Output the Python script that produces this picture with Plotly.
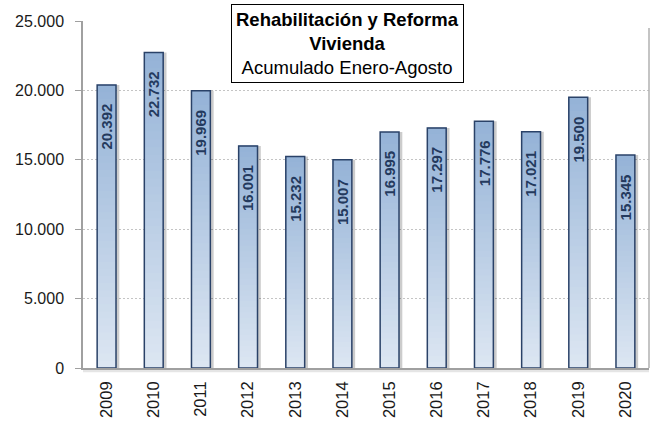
import plotly.graph_objects as go

years = ["2009", "2010", "2011", "2012", "2013", "2014", "2015", "2016", "2017", "2018", "2019", "2020"]
values = [20392, 22732, 19969, 16001, 15232, 15007, 16995, 17297, 17776, 17021, 19500, 15345]
y_ticks = [0, 5000, 10000, 15000, 20000, 25000]
title_lines = ["<b>Rehabilitación y Reforma</b>", "<b>Vivienda</b>", "Acumulado Enero-Agosto"]

FONT = "Liberation Sans, Arial, sans-serif"
BAR_W = 0.40
N = 40
light = (220, 230, 242)
dark = (149, 179, 215)

fig = go.Figure()

# shadow
fig.add_trace(go.Bar(
    x=years, y=values, width=BAR_W, offset=-BAR_W / 2 + 0.07,
    marker=dict(color="rgba(0,0,0,0.20)", line=dict(width=0)),
    hoverinfo="skip", showlegend=False))

# gradient fill: overlapping layers
for k in range(N):
    t = k / (N - 1)
    c = tuple(round(light[i] + (dark[i] - light[i]) * t) for i in range(3))
    fig.add_trace(go.Bar(
        x=years, y=[v * (N - k) / N for v in values], base=[v * k / N for v in values],
        width=BAR_W, marker=dict(color=f"rgb{c}", line=dict(width=0)),
        hoverinfo="skip", showlegend=False))

# outline
fig.add_trace(go.Bar(
    x=years, y=values, width=BAR_W,
    marker=dict(color="rgba(0,0,0,0)", line=dict(color="#2a4268", width=1.5)),
    showlegend=False))

annotations = []
for i, v in enumerate(values):
    annotations.append(dict(
        x=i, y=v, xref="x", yref="y", yanchor="top", xanchor="center",
        yshift=-17, textangle=-90, showarrow=False,
        text=f"<b>{v:,}</b>".replace(",", "."),
        font=dict(family=FONT, size=15, color="#243a5e")))

annotations.append(dict(
    x=0.468, y=1.048, xref="paper", yref="paper",
    xanchor="center", yanchor="top",
    text="<br>".join(title_lines), showarrow=False, align="center",
    font=dict(family=FONT, size=18.5, color="#000000"),
    bgcolor="#ffffff", bordercolor="#000000", borderwidth=1, borderpad=4))

fig.update_layout(
    width=654, height=421,
    margin=dict(l=83, r=5, t=21, b=53),
    paper_bgcolor="#ffffff", plot_bgcolor="#ffffff",
    barmode="overlay", bargap=0.5,
    separators=",.",
    annotations=annotations,
    font=dict(family=FONT, size=15, color="#1a1a1a"),
    xaxis=dict(type="category", range=[-0.5, len(years) - 0.5], tickangle=-90,
               showline=True, linecolor="#a0a0a0", automargin=False,
               linewidth=1.5, ticks="", showgrid=False,
               tickfont=dict(family=FONT, size=16.5, color="#1a1a1a"),
               ticklabelstandoff=5),
    yaxis=dict(range=[0, 25000], tickvals=y_ticks, tickformat=",.0f", automargin=False,
               showline=True, linecolor="#a0a0a0", linewidth=1.5,
               ticks="outside", ticklen=6, tickcolor="#a0a0a0", ticklabelstandoff=8,
               showgrid=True, gridcolor="#c4c4c4", griddash="2px,2px", gridwidth=1,
               zeroline=False, tickfont=dict(family=FONT, size=16, color="#1a1a1a")),
    shapes=[
        dict(type="line", xref="paper", yref="paper", x0=1, x1=1, y0=0, y1=0.98,
             line=dict(color="#b0b0b0", width=1.5)),
        dict(type="rect", xref="paper", yref="paper", x0=0, x1=1, y0=-0.012, y1=0,
             line=dict(width=0), fillcolor="rgba(0,0,0,0.10)", layer="below"),
    ],
)

fig.write_html("out.html", config={"displayModeBar": False},
               post_script="document.body.style.margin='0';")
